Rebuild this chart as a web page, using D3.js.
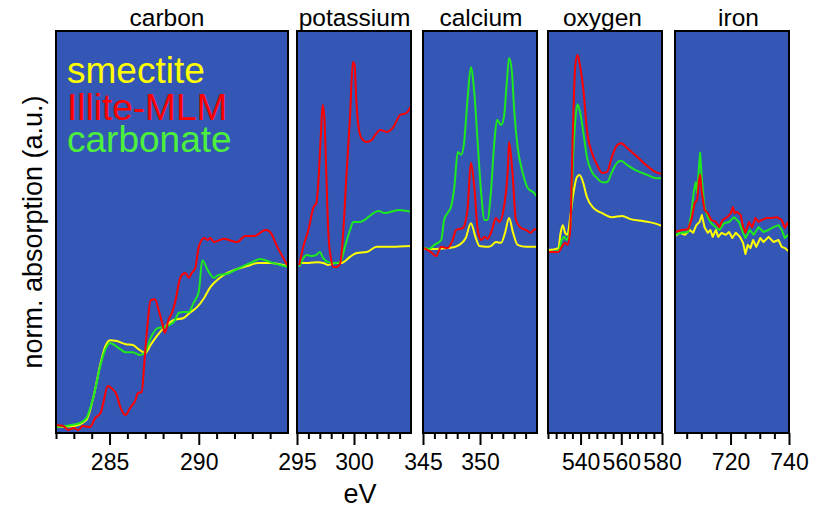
<!DOCTYPE html>
<html>
<head>
<meta charset="utf-8">
<script src="https://cdn.jsdelivr.net/npm/d3@7/dist/d3.min.js"></script>
<style>
  html, body { margin: 0; padding: 0; background: #ffffff; }
  svg { display: block; font-family: Arial, "Liberation Sans", sans-serif; }
</style>
</head>
<body>
<svg id="chart" width="819" height="508"></svg>
<script>
// Edge names and energy windows (eV)
const edgeNames = ["carbon", "potassium", "calcium", "oxygen", "iron"];
const edgeDomains = [[282, 295], [295, 305], [345, 355], [524, 580], [701, 740]];
const majorTicks = [[285, 290], [295, 300], [345, 350], [540, 560, 580], [720, 740]];
const minorTicks = [
  [282, 283, 284, 286, 287, 288, 289, 291, 292, 293, 294],
  [296, 297, 298, 299, 301, 302, 303, 304],
  [346, 347, 348, 349, 351, 352, 353, 354],
  [524, 528, 532, 536, 544, 548, 552, 556, 564, 568, 572, 576],
  [705, 710, 715, 725, 730, 735]
];
const seriesNames = ["smectite", "Illite-MLM", "carbonate"];

// Spectra as [energy (eV), normalized absorption]
const carbonSmectite = [[282.0,1.5],[283.0,1.75],[283.7,3.2],[284.1,9],[284.5,17.4],[284.75,21.4],[285.03,23.1],[285.4,22.9],[285.9,22.1],[286.3,21.9],[286.7,20.6],[287.0,19.9],[287.3,21.9],[287.7,24.4],[288.1,26.4],[288.6,28.1],[289.15,28.6],[289.5,29.9],[289.9,31.3],[290.3,33.6],[290.65,36.3],[291.1,38.3],[291.4,39.3],[292.15,40.8],[292.9,41.8],[293.3,42.3],[294.0,42.3],[295.0,41.5]];
const carbonIllite = [[282.0,2.0],[282.4,1.75],[282.7,0.75],[283.0,1.25],[283.25,0.75],[283.5,1.75],[283.9,1.5],[284.2,3.75],[284.5,5],[284.65,7.5],[284.9,11.7],[285.1,11.2],[285.4,9.5],[285.6,6.5],[285.9,4.5],[286.15,6.2],[286.45,8.2],[286.6,10],[286.8,10.2],[286.95,17.4],[287.1,25.6],[287.3,33],[287.55,33.3],[287.75,30.6],[287.95,27.4],[288.1,24.9],[288.3,28.1],[288.5,29.9],[288.7,33],[288.9,37.6],[289.05,39.3],[289.25,39.8],[289.45,38.6],[289.6,39.8],[289.8,41],[290.0,46.3],[290.3,48.5],[290.5,48],[290.65,48.5],[290.85,47.5],[291.4,48.3],[292.15,47.5],[292.6,49],[293.1,49],[293.75,50.5],[294.0,50],[294.4,46.3],[295.0,41.5]];
const carbonCarbonate = [[282.0,1.5],[283.35,2.5],[283.7,3.7],[284.1,9],[284.5,17],[284.75,20.6],[285.03,22.4],[285.5,21.2],[285.9,20.1],[286.3,20.1],[286.7,19.4],[287.0,20.1],[287.3,23.6],[287.7,26.1],[288.1,26.4],[288.6,27.6],[288.9,29.9],[289.15,30.1],[289.45,30.1],[289.7,32.3],[290.0,35.2],[290.2,43],[290.5,40.5],[290.85,38.6],[291.1,39.3],[291.6,39.6],[292.15,40.8],[292.9,42.3],[293.45,43.3],[294.0,42.5],[295.0,41.3]];

const potassiumSmectite = [[295.2,42.3],[296.0,42.3],[296.85,42.5],[297.3,42.3],[297.75,41.8],[298.35,42.3],[298.9,42.3],[299.65,43.8],[300.25,44.8],[301.1,45],[302.0,46.3],[303.3,46.3],[305.0,46.5]];
const potassiumIllite = [[295.2,41.8],[295.55,46.3],[296.0,50.5],[296.45,56.2],[296.7,57.2],[296.9,63.7],[297.1,74.6],[297.25,81.6],[297.4,78.6],[297.55,66.2],[297.75,49.8],[298.0,43],[298.2,41.3],[298.5,41.3],[298.8,42.3],[299.05,49.8],[299.35,64.7],[299.65,78.6],[299.9,92.3],[300.05,91.5],[300.2,82.8],[300.4,76.1],[300.65,73.4],[301.1,72.4],[301.55,72.9],[301.85,74.1],[302.3,75.4],[302.85,74.9],[303.45,76.1],[304.05,79.1],[304.6,79.6],[305.0,81.3]];
const potassiumCarbonate = [[295.2,41.3],[295.55,43.5],[295.85,44.3],[296.3,44],[296.7,44.3],[297.0,45],[297.3,43.5],[297.75,42.5],[298.35,42.3],[298.8,42.5],[299.2,46.3],[299.65,50.5],[299.95,52.5],[300.55,52.5],[300.95,53],[301.25,53.7],[302.15,55.2],[302.7,54.7],[303.9,55.5],[305.0,55]];

const calciumSmectite = [[345.1,45.8],[346.15,45.8],[347.3,46],[348.2,46.8],[348.75,48.5],[349.2,52.2],[349.6,48.8],[349.95,46.5],[350.55,46.3],[350.95,46.5],[351.4,47.5],[351.85,47.3],[352.2,49.8],[352.55,53.5],[352.9,49.8],[353.3,46.8],[354.05,46.3],[355.0,46.3]];
const calciumIllite = [[345.1,46],[345.7,45],[346.15,44],[346.6,46.3],[347.15,46],[347.6,48],[347.9,50.5],[348.5,51],[348.9,55.5],[349.2,67.2],[349.5,61.2],[349.8,50.5],[350.1,48],[350.4,48.8],[350.65,48.3],[351.05,50.5],[351.4,53.5],[351.7,52.5],[352.1,56.2],[352.45,66.2],[352.55,72.4],[352.85,64.7],[353.15,53],[353.6,51],[354.05,50.5],[354.45,49.8],[354.8,50.7],[355.0,50.5]];
const calciumCarbonate = [[345.1,46],[345.55,45.8],[346.0,46.8],[346.6,48],[346.85,53],[347.15,54.7],[347.45,56.2],[347.75,61.2],[348.05,69.9],[348.35,69.2],[348.6,72.1],[348.9,82.8],[349.2,91],[349.5,84.6],[349.8,72.1],[350.1,59.7],[350.4,53],[350.65,53],[350.95,59.7],[351.25,72.1],[351.5,77.9],[351.85,76.6],[352.1,78.6],[352.35,87.1],[352.55,93.3],[352.8,89.8],[353.0,80.3],[353.3,71.1],[353.75,64.7],[354.2,60.9],[354.75,59.7],[355.0,58.7]];

const oxygenSmectite = [[524.0,45.5],[529.1,46],[530.2,49.8],[531.3,51.7],[532.4,49.8],[533.55,49.3],[534.9,53.7],[536.5,59.7],[538.2,63.7],[539.5,64.2],[541.2,62.4],[543.1,58.7],[546.3,56],[550.6,54.7],[555.4,53.7],[560.4,54],[564.5,53.2],[571.1,52.7],[576.0,52.2],[580.0,51.5]];
const oxygenIllite = [[524.0,45],[529.1,45],[530.75,46.3],[532.4,47.3],[533.55,46.8],[534.9,50.5],[536.2,74.6],[537.35,91],[538.5,94],[539.85,91],[541.4,85.3],[543.1,75.4],[545.6,69.7],[548.1,66.7],[550.6,64.7],[552.9,64.9],[555.4,68.7],[557.9,71.6],[559.9,72.1],[562.85,70.9],[567.8,68.7],[572.75,66.4],[576.9,64.9],[580.0,64.4]];
const oxygenCarbonate = [[524.0,45],[529.1,45.3],[530.75,48],[532.0,48.8],[533.1,48],[534.9,51.2],[536.5,70.4],[537.9,80.3],[538.5,81.8],[539.85,79.6],[541.4,74.6],[543.1,68.7],[545.6,64.9],[548.1,63.4],[550.6,62.4],[552.9,62.4],[555.4,64.9],[557.9,67.2],[559.9,67.7],[562.85,66.7],[567.8,65.2],[572.75,64.2],[576.9,63.4],[580.0,63.4]];

const ironSmectite = [[701.0,49],[702.7,49.8],[704.4,49.3],[706.1,50.5],[707.2,49.8],[708.3,51.7],[709.4,52.5],[710.2,54.2],[711.1,51.2],[712.2,49.8],[713.1,50.5],[713.9,48.8],[715.0,50.5],[715.8,48.8],[716.9,49.8],[718.4,49.3],[719.5,50],[720.6,48.5],[721.8,49.8],[723.2,48.8],[724.3,47.3],[725.1,44.5],[725.9,46.8],[726.8,46],[727.7,48],[728.8,46.3],[730.2,48.5],[731.3,47.5],[733.0,48.8],[734.7,47.5],[736.4,48],[737.5,46.3],[738.6,46],[739.7,45.3]];
const ironIllite = [[701.0,50],[703.25,50.5],[705.5,50.7],[706.6,53],[707.7,57.2],[708.6,58],[709.2,62.9],[709.6,64.2],[710.2,59.7],[711.1,55.5],[712.2,54.7],[713.4,53],[715.0,52.5],[716.2,51.2],[717.3,53],[718.9,53.7],[720.1,54.7],[720.8,56.2],[721.4,54.7],[722.3,55],[723.5,54.2],[724.3,51.2],[725.1,49.8],[726.3,52.5],[727.4,51.2],[728.5,53.5],[729.6,52.5],[730.7,53],[732.4,53.5],[734.1,53.5],[735.8,53.7],[737.5,53],[738.6,51],[739.7,52.5]];
const ironCarbonate = [[701.0,49.3],[703.25,49.8],[705.5,50],[706.6,54.7],[707.5,60.4],[708.1,62.4],[708.6,59.7],[709.2,66.2],[709.6,69.7],[710.2,62.9],[711.1,56.2],[712.2,53.7],[713.4,52.2],[715.0,51.2],[716.2,50.5],[717.8,52.2],[719.5,52.5],[721.2,53.7],[722.9,52.5],[724.3,49.8],[725.1,48.5],[726.6,50.5],[727.9,49.3],[729.6,51.2],[731.3,50],[733.0,50.5],[734.7,51.2],[736.4,51.7],[737.5,50.5],[738.6,48.5],[739.7,49.3]];

const spectra = [
  [carbonSmectite, carbonIllite, carbonCarbonate],
  [potassiumSmectite, potassiumIllite, potassiumCarbonate],
  [calciumSmectite, calciumIllite, calciumCarbonate],
  [oxygenSmectite, oxygenIllite, oxygenCarbonate],
  [ironSmectite, ironIllite, ironCarbonate]
];

// Layout
const panelX = [[56, 288], [297, 411], [423, 537], [548, 662], [675, 789]];
const titleX = [167, 354.5, 481, 602.5, 738.5];
const panelTop = 31, panelBottom = 433;
const lineColors = ["#ffff00", "#ff0000", "#1ee81e"];
const legendColors = ["#ffff00", "#ff0000", "#4cef3c"];
const panelFill = "#3457b5";
const drawOrder = [0, 2, 1];

const svg = d3.select("#chart");
const y = d3.scaleLinear().domain([0, 100]).range([panelBottom, panelTop]);

edgeNames.forEach((name, i) => {
  const [x0, x1] = panelX[i];
  const x = d3.scaleLinear().domain(edgeDomains[i]).range([x0, x1]);
  const g = svg.append("g");

  g.append("rect")
    .attr("x", x0).attr("y", panelTop)
    .attr("width", x1 - x0).attr("height", panelBottom - panelTop)
    .attr("fill", panelFill);

  const clipId = "clip" + i;
  svg.append("clipPath").attr("id", clipId)
    .append("rect").attr("x", x0).attr("y", panelTop)
    .attr("width", x1 - x0).attr("height", panelBottom - panelTop);

  const line = d3.line()
    .x(d => x(d[0])).y(d => y(d[1]))
    .curve(i === 4 ? d3.curveLinear : d3.curveMonotoneX);

  drawOrder.forEach(s => {
    g.append("path")
      .datum(spectra[i][s])
      .attr("clip-path", `url(#${clipId})`)
      .attr("fill", "none")
      .attr("stroke", lineColors[s])
      .attr("stroke-width", 2)
      .attr("stroke-linejoin", "round")
      .attr("d", line);
  });

  g.append("rect")
    .attr("x", x0).attr("y", panelTop)
    .attr("width", x1 - x0).attr("height", panelBottom - panelTop)
    .attr("fill", "none").attr("stroke", "#000").attr("stroke-width", 2);

  // minor ticks
  const minorAxis = d3.axisBottom(x).tickValues(minorTicks[i]).tickSize(6).tickFormat("");
  g.append("g").attr("transform", `translate(0,${panelBottom})`).call(minorAxis)
    .call(a => a.select(".domain").remove())
    .call(a => a.selectAll("line").attr("stroke", "#000").attr("stroke-width", 2));

  // major ticks with labels
  const majorAxis = d3.axisBottom(x).tickValues(majorTicks[i]).tickSize(12).tickPadding(9).tickFormat(d3.format("d"));
  g.append("g").attr("transform", `translate(0,${panelBottom})`).call(majorAxis)
    .call(a => a.select(".domain").remove())
    .call(a => a.selectAll("line").attr("stroke", "#000").attr("stroke-width", 2))
    .call(a => a.selectAll("text").attr("fill", "#000")
      .style("font-size", "23px").style("font-family", "Arial, 'Liberation Sans', sans-serif"));

  // edge title
  svg.append("text")
    .attr("x", titleX[i]).attr("y", 25.5)
    .attr("text-anchor", "middle")
    .style("font-size", "24.5px")
    .attr("fill", "#000")
    .text(name);
});

// legend inside the carbon panel
seriesNames.forEach((s, k) => {
  svg.append("text")
    .attr("x", 67).attr("y", [83, 120, 152][k])
    .style("font-size", "37px")
    .attr("fill", legendColors[k])
    .text(s);
});

// axis titles
svg.append("text")
  .attr("x", 360).attr("y", 503)
  .attr("text-anchor", "middle")
  .style("font-size", "27px")
  .attr("fill", "#000")
  .text("eV");

svg.append("text")
  .attr("transform", "translate(42,232) rotate(-90)")
  .attr("text-anchor", "middle")
  .style("font-size", "27px")
  .attr("fill", "#000")
  .text("norm. absorption (a.u.)");
</script>
</body>
</html>
